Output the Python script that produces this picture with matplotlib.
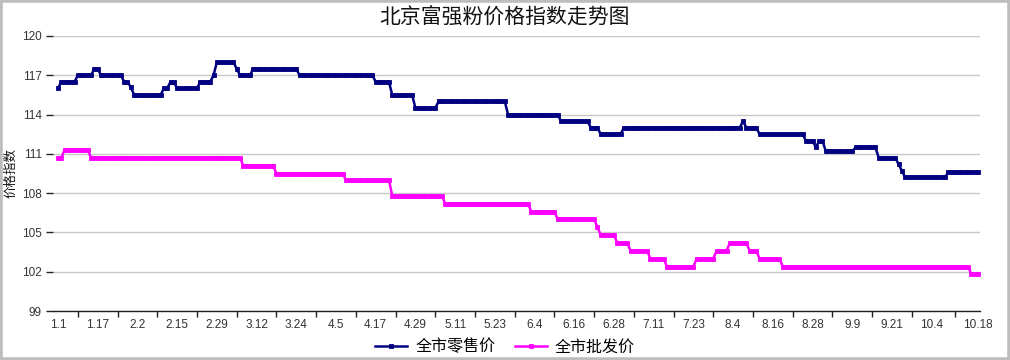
# -*- coding: utf-8 -*-
import numpy as np
import matplotlib
matplotlib.use('Agg')
import matplotlib.pyplot as plt
from matplotlib.patches import Rectangle

#Data (step levels and how many days each level lasts)
retail_vals = [116.0, 116.5, 117.0, 117.5, 117.0, 116.5, 116.1, 115.5, 116.0, 116.5,
               116.0, 116.5, 117.0, 118.0, 117.5, 117.0, 117.5, 117.0, 116.5, 115.5,
               114.5, 115.0, 114.0, 113.5, 113.0, 112.5, 113.0, 113.5, 113.0, 112.5,
               112.0, 111.5, 112.0, 111.2, 111.5, 110.7, 110.2, 109.7, 109.2, 109.6]
retail_runs = [1, 5, 5, 2, 7, 2, 1, 9, 2, 2,
               7, 4, 1, 6, 1, 4, 14, 23, 5, 7,
               7, 21, 16, 9, 3, 7, 36, 1, 4, 14,
               3, 1, 2, 9, 7, 6, 1, 1, 13, 10]

wholesale_vals = [110.7, 111.3, 110.7, 110.1, 109.5, 109.0, 107.8, 107.2, 106.6, 106.0,
                  105.4, 104.8, 104.2, 103.6, 103.0, 102.4, 103.0, 103.6, 104.2, 103.6,
                  103.0, 102.4, 101.8]
wholesale_runs = [2, 8, 46, 10, 21, 14, 16, 26, 8, 12,
                  1, 5, 4, 6, 5, 9, 6, 4, 6, 3,
                  7, 57, 3]

date_labels = ['1.1', '1.17', '2.2', '2.15', '2.29', '3.12', '3.24', '4.5', '4.17', '4.29',
               '5.11', '5.23', '6.4', '6.16', '6.28', '7.11', '7.23', '8.4', '8.16', '8.28',
               '9.9', '9.21', '10.4', '10.18']

retail = np.repeat(retail_vals, retail_runs)
wholesale = np.repeat(wholesale_vals, wholesale_runs)
x = np.arange(len(retail))

#Label every 12 days plus the last day, tick marks half way between labels
label_pos = list(range(0, 12 * (len(date_labels) - 1), 12)) + [len(x) - 1]
tick_pos = [(label_pos[i] + label_pos[i + 1]) / 2 for i in range(len(label_pos) - 1)]

cjk = ['Noto Sans CJK SC', 'DejaVu Sans']

fig = plt.figure(figsize=(10.1, 3.6), dpi=100)
ax = fig.add_axes([0.0525, 0.136, 0.9175, 0.764])

ax.plot(x, retail, color='#000080', lw=1.8, marker='s', markersize=2.9,
        markeredgewidth=0.6, label='全市零售价')
ax.plot(x, wholesale, color='#ff00ff', lw=1.8, marker='s', markersize=2.9,
        markeredgewidth=0.6, label='全市批发价')

ax.set_ylim(99, 120)
ax.set_yticks(range(99, 121, 3))
ax.set_xlim(-1.5, len(x) - 0.5)
ax.grid(True, axis='y', color='#c8c8c8', lw=1)
ax.set_axisbelow(True)

for s in ['top', 'right', 'left']:
    ax.spines[s].set_visible(False)
ax.spines['bottom'].set_color('#222222')
ax.spines['bottom'].set_linewidth(1)

ax.set_xticks(tick_pos)
ax.set_xticklabels([])
ax.set_xticks(label_pos, minor=True)
ax.set_xticklabels(date_labels, minor=True, fontsize=8.5, color='#333333',
                   family='Liberation Sans')
ax.tick_params(axis='x', which='major', length=4, width=1, color='#222222', direction='out')
ax.tick_params(axis='x', which='minor', length=0, pad=6)
ax.tick_params(axis='y', length=5, width=1, color='#222222', labelsize=8.5,
               labelcolor='#333333', pad=3)
for t in ax.get_yticklabels():
    t.set_family('Liberation Sans')

fig.text(0.5, 0.952, '北京富强粉价格指数走势图', ha='center', va='center',
         fontsize=15, family=cjk, color='#111111')
fig.text(0.0105, 0.52, '价格指数', rotation=90, ha='center', va='center',
         fontsize=9, family=cjk, color='#111111')

leg = fig.legend(loc='center', bbox_to_anchor=(0.5, 0.036), ncol=2, frameon=False,
                 prop={'family': cjk, 'size': 11.5}, handlelength=2.0,
                 handletextpad=0.5, columnspacing=1.2)

#Gray frame round the chart
fig.patches.append(Rectangle((0, 0), 1, 1, transform=fig.transFigure, fill=False,
                             edgecolor='#bdbdbd', lw=4))

plt.savefig('out.png', dpi=100)
